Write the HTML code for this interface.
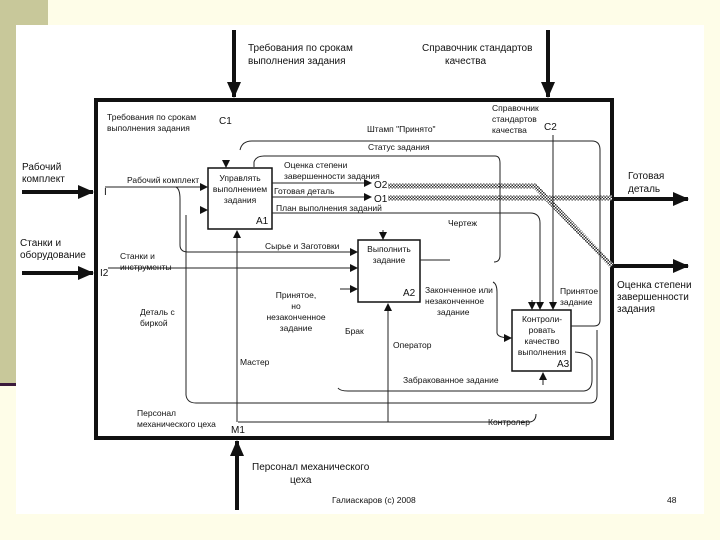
<!DOCTYPE html>
<html><head><meta charset="utf-8"><style>
body{margin:0;width:720px;height:540px;background:#fefde8;overflow:hidden;position:relative;font-family:"Liberation Sans",sans-serif}
</style></head><body>
<div style="position:absolute;left:0;top:0;width:48px;height:25px;background:#c8c89a"></div>
<div style="position:absolute;left:0;top:25px;width:16px;height:358px;background:#c8c89a"></div>
<div style="position:absolute;left:0;top:383px;width:16px;height:3px;background:#3a1a3a"></div>
<div style="position:absolute;left:16px;top:25px;width:688px;height:489px;background:#fff"></div>
<svg width="720" height="540" style="position:absolute;left:0;top:0" font-family="Liberation Sans, sans-serif" fill="#111">
<defs>
<marker id="a" markerWidth="8" markerHeight="8" refX="7" refY="4" orient="auto" markerUnits="userSpaceOnUse"><path d="M0,0L8,4L0,8z" fill="#111"/></marker>
<marker id="b" markerWidth="16" markerHeight="14" refX="15" refY="7" orient="auto" markerUnits="userSpaceOnUse"><path d="M0,0L16,7L0,14z" fill="#111"/></marker>
<pattern id="h" width="3" height="3" patternUnits="userSpaceOnUse"><rect width="3" height="3" fill="#fff"/><rect width="1.5" height="1.5" fill="#333"/><rect x="1.5" y="1.5" width="1.5" height="1.5" fill="#333"/></pattern>
</defs>
<g stroke="#111" stroke-width="4" fill="none">
<rect x="96" y="100" width="516" height="338"/>
<line x1="234" y1="30" x2="234" y2="97" marker-end="url(#b)"/>
<line x1="548" y1="30" x2="548" y2="97" marker-end="url(#b)"/>
<line x1="22" y1="192" x2="93" y2="192" marker-end="url(#b)"/>
<line x1="22" y1="273" x2="93" y2="273" marker-end="url(#b)"/>
<line x1="614" y1="199" x2="688" y2="199" marker-end="url(#b)"/>
<line x1="614" y1="266" x2="688" y2="266" marker-end="url(#b)"/>
<line x1="237" y1="510" x2="237" y2="441" marker-end="url(#b)"/>
</g>
<g stroke="#111" stroke-width="1.5" fill="#fff">
<rect x="208" y="168" width="64" height="61"/>
<rect x="358" y="240" width="62" height="62"/>
<rect x="512" y="310" width="59" height="61"/>
</g>
<g stroke="url(#h)" stroke-width="5" fill="none">
<path d="M388,186 L535,186 L612,266"/>
<path d="M388,198 L612,198"/>
</g>
<g stroke="#222" stroke-width="1" fill="none">
<line x1="105" y1="187" x2="207" y2="187" marker-end="url(#a)"/>
<path d="M176,187 Q180,189 180,199 L180,245 Q180,252 188,252 L357,252" marker-end="url(#a)"/>
<line x1="108" y1="268" x2="357" y2="268" marker-end="url(#a)"/>
<line x1="272" y1="183" x2="371" y2="183" marker-end="url(#a)"/>
<line x1="272" y1="197" x2="371" y2="197" marker-end="url(#a)"/>
<path d="M272,213 L530,213 Q540,213 540,223 L540,309" marker-end="url(#a)"/>
<line x1="553" y1="135" x2="553" y2="309" marker-end="url(#a)"/>
<path d="M240,150 Q242,141 252,141 L592,141 Q600,141 600,150 L600,320 Q600,326 594,326 L571,326"/>
<path d="M254,167 L254,162 Q256,156 264,156 L495,156 Q500,156 500,163 L500,255 Q500,262 494,262"/>
<line x1="226" y1="160" x2="226" y2="167" marker-end="url(#a)"/>
<line x1="383" y1="230" x2="383" y2="239" marker-end="url(#a)"/>
<line x1="532" y1="300" x2="532" y2="309" marker-end="url(#a)"/>
<line x1="420" y1="260" x2="450" y2="260"/>
<path d="M493,282 Q497,284 497,292 L497,333 Q498,338 511,338" marker-end="url(#a)"/>
<line x1="340" y1="289" x2="357" y2="289" marker-end="url(#a)"/>
<line x1="200" y1="210" x2="207" y2="210" marker-end="url(#a)"/>
<path d="M186,215 L186,395 Q187,403 196,403 L590,403 Q597,403 597,395 L597,330"/>
<path d="M338,388 Q340,391 348,391 L584,391 Q592,390 592,380 L592,360 Q590,353 575,352"/>
<line x1="237" y1="422" x2="237" y2="231" marker-end="url(#a)"/>
<line x1="388" y1="422" x2="388" y2="304" marker-end="url(#a)"/>
<line x1="543" y1="385" x2="543" y2="373" marker-end="url(#a)"/>
<path d="M238,422 L530,422 Q536,421 536,414"/>
</g>
<g font-size="10">
<text x="248" y="51">Требования по срокам</text><text x="248" y="64">выполнения задания</text>
<text x="422" y="51">Справочник стандартов</text><text x="445" y="64">качества</text>
<text x="22" y="170">Рабочий</text><text x="22" y="182">комплект</text>
<text x="20" y="246">Станки и</text><text x="20" y="258">оборудование</text>
<text x="628" y="179">Готовая</text><text x="628" y="192">деталь</text>
<text x="617" y="288">Оценка степени</text><text x="617" y="300">завершенности</text><text x="617" y="312">задания</text>
<text x="252" y="470">Персонал механического</text><text x="290" y="483">цеха</text>
</g>
<g font-size="8.5">
<text x="107" y="120">Требования по срокам</text><text x="107" y="131">выполнения задания</text><text x="219" y="124" font-size="10">C1</text>
<text x="492" y="111">Справочник</text><text x="492" y="122">стандартов</text><text x="492" y="133">качества</text><text x="544" y="130" font-size="10">C2</text>
<text x="367" y="132">Штамп "Принято"</text>
<text x="368" y="150">Статус задания</text>
<text x="284" y="168">Оценка степени</text><text x="284" y="179">завершенности задания</text>
<text x="374" y="188" font-size="10">O2</text><text x="374" y="202" font-size="10">O1</text>
<text x="274" y="194">Готовая деталь</text>
<text x="276" y="211">План выполнения заданий</text>
<text x="448" y="226">Чертеж</text>
<text x="104" y="195" font-size="10">I</text><text x="127" y="183">Рабочий комплект</text>
<text x="100" y="276" font-size="10">I2</text><text x="120" y="259">Станки и</text><text x="120" y="270">инструменты</text>
<text x="265" y="249">Сырье и Заготовки</text>
<text x="240" y="181" text-anchor="middle">Управлять</text><text x="240" y="192" text-anchor="middle">выполнением</text><text x="240" y="203" text-anchor="middle">задания</text><text x="256" y="224" font-size="10">A1</text>
<text x="389" y="252" text-anchor="middle">Выполнить</text><text x="389" y="263" text-anchor="middle">задание</text><text x="403" y="296" font-size="10">A2</text>
<text x="542" y="322" text-anchor="middle">Контроли-</text><text x="542" y="333" text-anchor="middle">ровать</text><text x="542" y="344" text-anchor="middle">качество</text><text x="542" y="355" text-anchor="middle">выполнения</text><text x="557" y="367" font-size="10">A3</text>
<text x="425" y="293">Законченное или</text><text x="425" y="304">незаконченное</text><text x="437" y="315">задание</text>
<text x="560" y="294">Принятое</text><text x="560" y="305">задание</text>
<text x="296" y="298" text-anchor="middle">Принятое,</text><text x="296" y="309" text-anchor="middle">но</text><text x="296" y="320" text-anchor="middle">незаконченное</text><text x="296" y="331" text-anchor="middle">задание</text>
<text x="140" y="315">Деталь с</text><text x="140" y="326">биркой</text>
<text x="345" y="334">Брак</text><text x="393" y="348">Оператор</text><text x="240" y="365">Мастер</text>
<text x="403" y="383">Забракованное задание</text>
<text x="137" y="416">Персонал</text><text x="137" y="427">механического цеха</text><text x="231" y="433" font-size="10">M1</text>
<text x="488" y="425">Контролер</text>
<text x="332" y="503">Галиаскаров (с) 2008</text><text x="667" y="503">48</text>
</g>
</svg>
</body></html>
